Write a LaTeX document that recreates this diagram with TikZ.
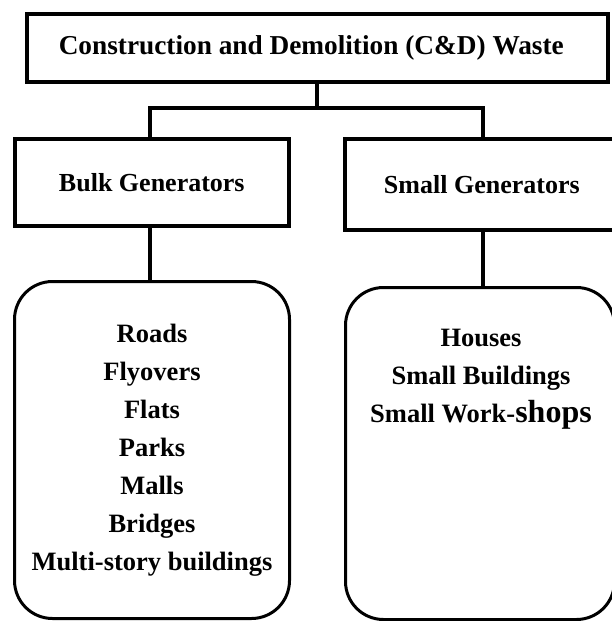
\documentclass[tikz,border=0pt]{standalone}
\usepackage{fontspec}
\setmainfont{Liberation Serif}
\begin{document}
\begin{tikzpicture}[x=1pt,y=-1pt,
  box/.style={draw, line width=3.6pt, anchor=north west, inner sep=0pt, font=\fontsize{26}{30}\selectfont\bfseries},
  rbox/.style={draw, line width=3pt, anchor=north west, rounded corners=38pt, inner sep=0pt},
  listtxt/.style={align=center, font=\fontsize{26.5}{38}\selectfont\bfseries},
  conn/.style={line width=3.2pt}]
\useasboundingbox (0,0) rectangle (611,621);
\node[box, minimum width=581pt, minimum height=68pt, font=\fontsize{27.3}{30}\selectfont\bfseries] (top) at (25,12) {\hspace*{-12pt}Construction and Demolition (C\&D) Waste};
\node[box, minimum width=274pt, minimum height=87pt] (bulk) at (13,137) {Bulk Generators};
\node[box, minimum width=277pt, minimum height=91pt] (small) at (343,137) {\hspace*{-3pt}Small Generators};
\node[rbox, minimum width=275pt, minimum height=337pt, listtxt] (left) at (13,280) {Roads\\Flyovers\\Flats\\Parks\\Malls\\Bridges\\Multi-story buildings};
\node[rbox, minimum width=269pt, minimum height=332pt] (right) at (344,286) {};
\node[listtxt, anchor=center] (rlist) at (481,379) {Houses\\Small Buildings\\Small Work-{\fontsize{32}{38}\selectfont shops}};
\coordinate (jt) at (317,108);
\coordinate (jl) at (150,108);
\coordinate (jr) at (483,108);
\draw[conn] (top.south -| jt) -- (jt);
\draw[conn] (bulk.north -| jl) -- (jl) -- (jr) -- (small.north -| jr);
\draw[conn] (bulk.south -| jl) -- (left.north -| jl);
\draw[conn] (small.south -| jr) -- (right.north -| jr);
\end{tikzpicture}
\end{document}
